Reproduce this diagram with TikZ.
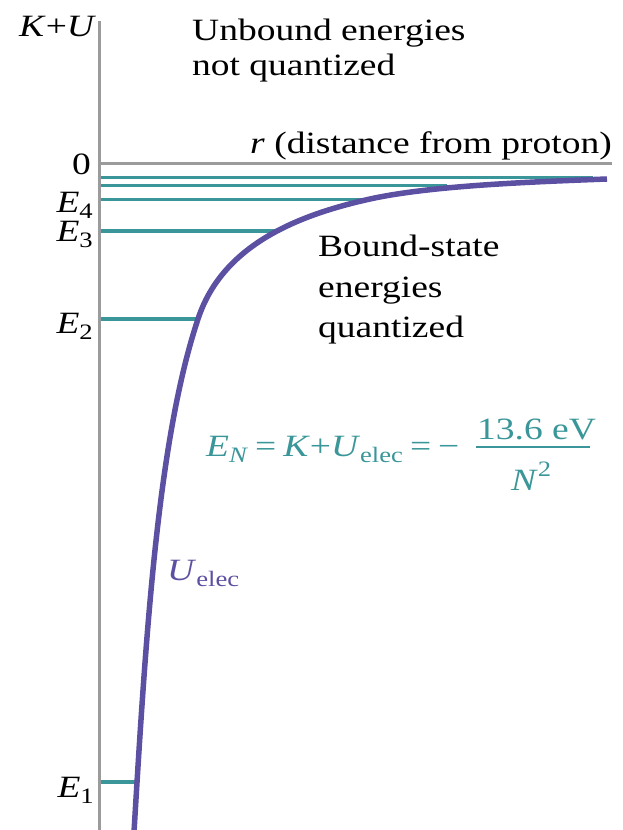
\documentclass[tikz,border=0pt]{standalone}
\usepackage{fontspec}
\setmainfont[FakeStretch=1.21]{Liberation Serif}
\definecolor{tealc}{RGB}{58,150,152}
\definecolor{purplec}{RGB}{92,80,162}
\definecolor{axisc}{RGB}{155,155,155}
\newcommand{\lowsub}[1]{\raisebox{-0.2em}{\fontsize{22}{22}\selectfont #1}}
\newcommand{\highsup}[1]{\raisebox{0.45em}{\fontsize{22}{22}\selectfont #1}}
\tikzset{
  axisline/.style={draw=axisc, line width=3pt},
  levelline/.style={draw=tealc, line width=3.4pt},
  fracbar/.style={draw=tealc, line width=2.6pt},
  ucurve/.style={draw=purplec, line width=5.5pt, line cap=butt},
  lbl/.style={inner sep=0pt, font=\fontsize{31}{35}\selectfont},
}
\begin{document}
\begin{tikzpicture}[x=1pt,y=-1pt]
\useasboundingbox (0,0) rectangle (622,830);
% energy levels
\foreach \y/\xe/\n in {177.5/593/6, 185.5/447/5, 199.5/370/4, 231/280/3, 319/198/2, 782/137/1}{
  \coordinate (L\n) at (99,\y);
  \coordinate (C\n) at (\xe,\y);
  \draw[levelline] (L\n) -- (C\n);
}
% axes
\coordinate (Ytop) at (99,21);
\coordinate (Ybot) at (99,830);
\coordinate (O) at (99,163.5);
\coordinate (Xend) at (612,163.5);
\draw[axisline] (Ytop) -- (Ybot);
\draw[axisline] (O) -- (Xend);
% potential curve
\draw[ucurve] (134,832) .. controls (146,632) and (158,439) .. (198,319)
  .. controls (221,249) and (290,216.6) .. (370,199)
  .. controls (430,185.8) and (527,182) .. (607,179);
% labels
\node[lbl, anchor=base west] (ku) at (19,36) {\textit{K}+\textit{U}};
\node[lbl, anchor=base west] (unb1) at (192,40) {Unbound energies};
\node[lbl, anchor=base west] (unb2) at (192,75) {not quantized};
\node[lbl, anchor=base east] (rlab) at (612,153) {\textit{r} (distance from proton)};
\node[lbl, anchor=base east] (zero) at (91,174) {0};
\node[lbl, anchor=base east] (e4) at (93,212) {\textit{E}\lowsub{4}};
\node[lbl, anchor=base east] (e3) at (93,241) {\textit{E}\lowsub{3}};
\node[lbl, anchor=base east] (e2) at (93,333) {\textit{E}\lowsub{2}};
\node[lbl, anchor=base east] (e1) at (94,797) {\textit{E}\lowsub{1}};
\node[lbl, anchor=base west] (bnd1) at (318,256) {Bound-state};
\node[lbl, anchor=base west] (bnd2) at (318,297) {energies};
\node[lbl, anchor=base west] (bnd3) at (318,337) {quantized};
\node[lbl, anchor=base west, text=purplec] (ulab) at (167,580) {\textit{U}\lowsub{elec}};
\node[lbl, anchor=base west, text=tealc] (formula) at (206,456) {\spaceskip=7pt\textit{E}\lowsub{\textit{N}} = \textit{K}+\textit{U}\lowsub{elec} = −};
\node[lbl, anchor=base west, text=tealc] (numer) at (477,439) {13.6 eV};
\coordinate (barL) at (476,447);
\coordinate (barR) at (590,447);
\draw[fracbar] (barL) -- (barR);
\node[lbl, anchor=base west, text=tealc] (denom) at (511,490) {\textit{N}\highsup{2}};
\end{tikzpicture}
\end{document}
